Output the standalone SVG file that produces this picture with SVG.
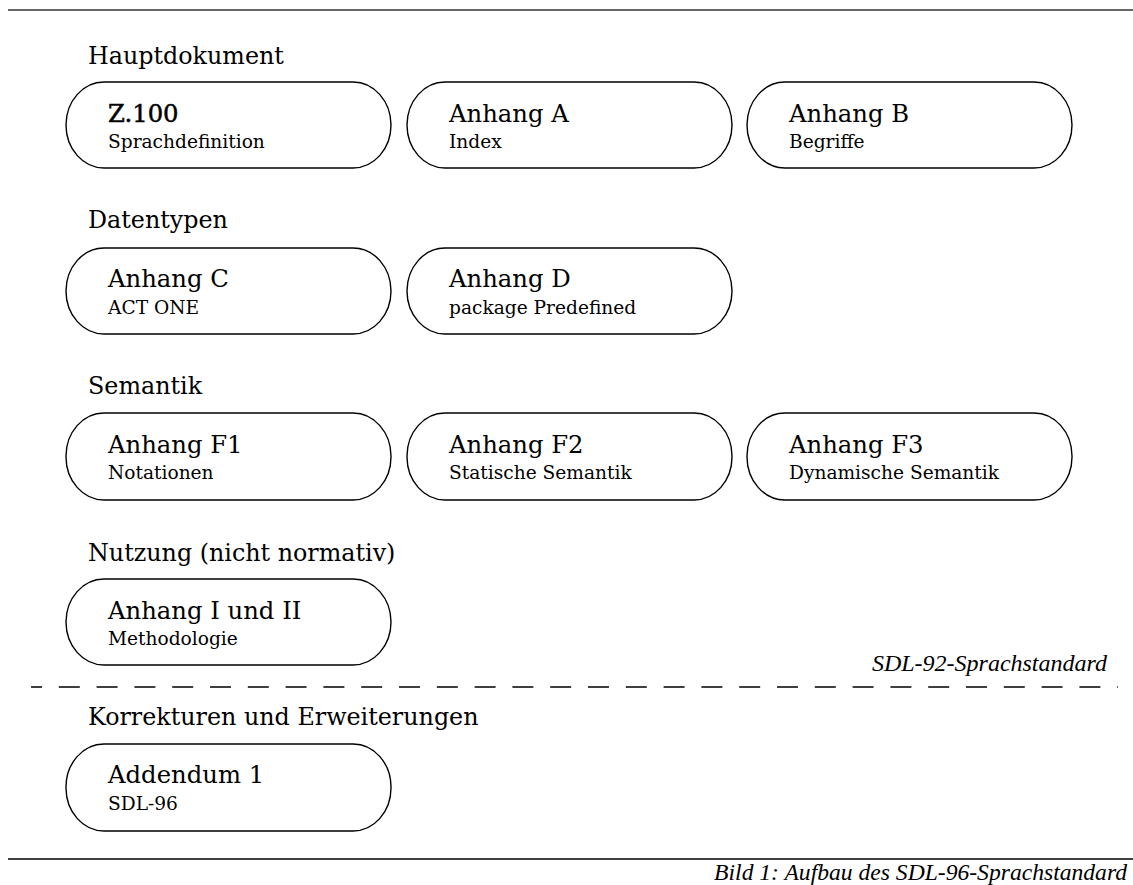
<svg xmlns="http://www.w3.org/2000/svg" width="1133" height="885" viewBox="0 0 1133 885">
<style>
.box{fill:#fff;stroke:#000;stroke-width:1.4}
.h{font-family:"DejaVu Serif","Liberation Serif",serif;font-size:23.8px;fill:#000}
.t{font-family:"DejaVu Serif","Liberation Serif",serif;font-size:24.3px;fill:#000}
.s{font-family:"DejaVu Serif","Liberation Serif",serif;font-size:18.6px;fill:#000}
.i{font-family:"Liberation Serif","DejaVu Serif",serif;font-style:italic;fill:#000}
</style>
<rect width="1133" height="885" fill="#fff"/>
<line x1="8" y1="10" x2="1133" y2="10" stroke="#666" stroke-width="2"/>
<line x1="8" y1="859" x2="1133" y2="859" stroke="#000" stroke-width="1.4"/>
<line x1="31" y1="687" x2="1118" y2="687" stroke="#000" stroke-width="1.4" stroke-dasharray="21 16.8" stroke-dashoffset="10"/>
<text class="h" x="88" y="64">Hauptdokument</text>
<text class="h" x="88" y="228">Datentypen</text>
<text class="h" x="88" y="394">Semantik</text>
<text class="h" x="88" y="561">Nutzung (nicht normativ)</text>
<text class="h" x="88" y="725">Korrekturen und Erweiterungen</text>
<text class="i" x="1107" y="671" font-size="24" text-anchor="end">SDL-92-Sprachstandard</text>
<text class="i" x="1127" y="880" font-size="23.6" text-anchor="end">Bild 1: Aufbau des SDL-96-Sprachstandard</text>
<g id="z100"><rect class="box" x="66" y="82" width="325" height="86" rx="38" ry="43"/><text class="t" x="108" y="122" stroke="#000" stroke-width="0.5">Z.100</text><text class="s" x="108" y="148">Sprachdefinition</text></g>
<g id="anhangA"><rect class="box" x="407" y="82" width="325" height="86" rx="38" ry="43"/><text class="t" x="449" y="122">Anhang A</text><text class="s" x="449" y="148">Index</text></g>
<g id="anhangB"><rect class="box" x="747" y="82" width="325" height="86" rx="38" ry="43"/><text class="t" x="789" y="122">Anhang B</text><text class="s" x="789" y="148">Begriffe</text></g>
<g id="anhangC"><rect class="box" x="66" y="248" width="325" height="86" rx="38" ry="43"/><text class="t" x="108" y="287">Anhang C</text><text class="s" x="108" y="314">ACT ONE</text></g>
<g id="anhangD"><rect class="box" x="407" y="248" width="325" height="86" rx="38" ry="43"/><text class="t" x="449" y="287">Anhang D</text><text class="s" x="449" y="314">package Predefined</text></g>
<g id="anhangF1"><rect class="box" x="66" y="413" width="325" height="87" rx="38" ry="43"/><text class="t" x="108" y="453">Anhang F1</text><text class="s" x="108" y="479">Notationen</text></g>
<g id="anhangF2"><rect class="box" x="407" y="413" width="325" height="87" rx="38" ry="43"/><text class="t" x="449" y="453">Anhang F2</text><text class="s" x="449" y="479">Statische Semantik</text></g>
<g id="anhangF3"><rect class="box" x="747" y="413" width="325" height="87" rx="38" ry="43"/><text class="t" x="789" y="453">Anhang F3</text><text class="s" x="789" y="479">Dynamische Semantik</text></g>
<g id="anhangI"><rect class="box" x="66" y="579" width="325" height="86" rx="38" ry="43"/><text class="t" x="108" y="619">Anhang I und II</text><text class="s" x="108" y="645">Methodologie</text></g>
<g id="addendum1"><rect class="box" x="66" y="744" width="325" height="87" rx="38" ry="43"/><text class="t" x="108" y="783">Addendum 1</text><text class="s" x="108" y="810">SDL-96</text></g>
<g id="connectors"></g>
</svg>
